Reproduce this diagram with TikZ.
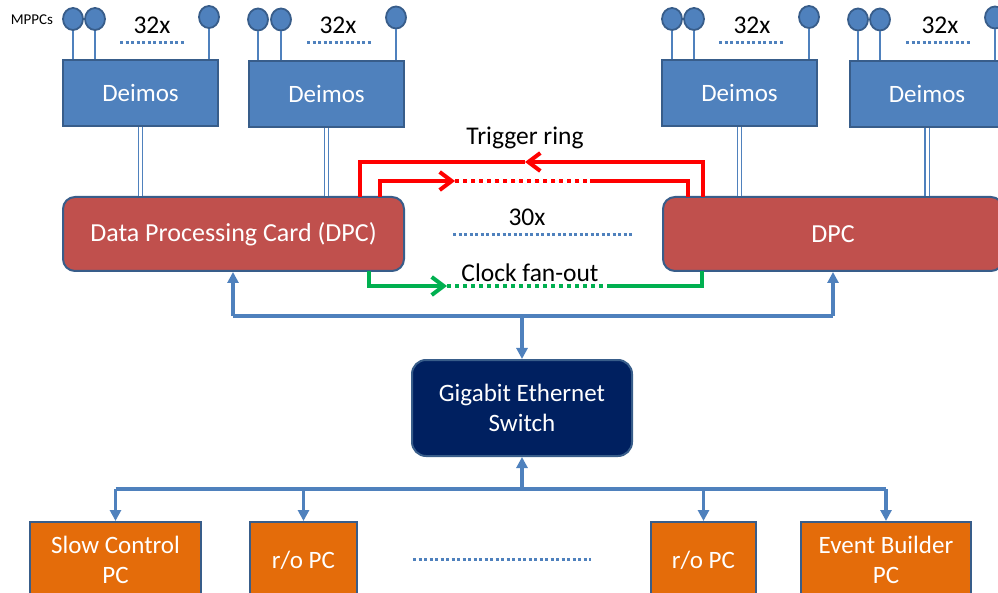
\documentclass[tikz,border=0pt]{standalone}
\usepackage{fontspec}
\setmainfont{Carlito}
\usetikzlibrary{arrows.meta,shapes.geometric}

\definecolor{deimosblue}{HTML}{4F81BD}
\definecolor{edge}{HTML}{385D8A}
\definecolor{dpcred}{HTML}{C0504D}
\definecolor{navy}{HTML}{002060}
\definecolor{pcorange}{HTML}{E46C0A}
\definecolor{ringred}{HTML}{FF0000}
\definecolor{clkgreen}{HTML}{00B050}

\begin{document}
\begin{tikzpicture}[x=1pt,y=-1pt,
  box/.style={draw=edge, line width=2pt, text=white, align=center,
    inner sep=0pt, font=\fontsize{25}{30}\selectfont},
  deimos/.style={box, fill=deimosblue, minimum width=155pt, minimum height=66pt},
  dpc/.style={box, fill=dpcred, rounded corners=12pt, minimum height=74pt},
  switchbox/.style={box, fill=navy, rounded corners=14pt,
    minimum width=220pt, minimum height=96pt},
  pcbox/.style={box, fill=pcorange, minimum height=76pt},
  mppc/.style={ellipse, draw=edge, line width=1.8pt, fill=deimosblue,
    minimum width=20pt, minimum height=22pt, inner sep=0pt},
  mwire/.style={draw=deimosblue, line width=1.4pt},
  link/.style={draw=deimosblue, line width=1.2pt, double=white, double distance=3pt},
  net/.style={draw=deimosblue, line width=3.2pt},
  netarrow/.style={net, -{Triangle[length=11pt,width=11pt]}},
  ring/.style={draw=ringred, line width=4pt},
  clk/.style={draw=clkgreen, line width=4pt},
  barb/.style={-{Straight Barb[length=12pt,width=18pt]}},
  dots/.style={line width=4pt, dash pattern=on 4pt off 4pt},
  bluedots/.style={draw=deimosblue, line width=3pt, dash pattern=on 3pt off 2.5pt},
  lbl/.style={inner sep=0pt, font=\fontsize{25.5}{30}\selectfont},
]
\useasboundingbox (0,0) rectangle (998,593);
\clip (0,0) rectangle (998,593);

% front-end boards
\node[deimos] (d1) at (140.5,93) {Deimos};
\node[deimos] (d2) at (326.5,94) {Deimos};
\node[deimos] (d3) at (739.5,93) {Deimos};
\node[deimos] (d4) at (927,94) {Deimos};

% sensors on each board
\node[inner sep=0pt, font=\fontsize{15}{17}\selectfont] (mlabel) at (32,20) {MPPCs};
\foreach \b/\xa/\xb/\xc/\ya/\yc in {d1/73/95/209/19/17, d2/258/281/396/19.5/17.5,
                                   d3/672/694/809/19/17, d4/858/880/995/19.5/17.5}{
  \node[mppc] (\b a) at (\xa,\ya) {};
  \node[mppc] (\b b) at (\xb,\ya) {};
  \node[mppc] (\b c) at (\xc,\yc) {};
  \foreach \s in {a,b,c}{
    \draw[mwire] (\b\s.south) -- (\b\s.south |- \b.north);
  }
}
\foreach \n/\x in {c1/152, c2/338, c3/752, c4/940}{
  \node[lbl] (\n) at (\x,25) {32x};
}
\draw[bluedots] (120,43) -- (185,43);
\draw[bluedots] (307,43) -- (372,43);
\draw[bluedots] (719,43) -- (784,43);
\draw[bluedots] (906,43) -- (971,43);

% data processing cards
\node[dpc, minimum width=341pt, font=\fontsize{26}{30}\selectfont] (dpcL) at (233.5,234)
  {\raisebox{-2pt}{Data Processing Card (DPC)}};
\node[dpc, minimum width=340pt, font=\fontsize{26}{30}\selectfont] (dpcR) at (833,234)
  {\raisebox{-1pt}{DPC}};

\draw[link] (d1.south) -- (d1.south |- dpcL.north);
\draw[link] (d2.south) -- (d2.south |- dpcL.north);
\draw[link] (d3.south) -- (d3.south |- dpcR.north);
\draw[link] (d4.south) -- (d4.south |- dpcR.north);

% trigger ring
\node[lbl] (trig) at (525,138) {Trigger ring};
\coordinate (ro1) at (703,197);
\coordinate (ro2) at (525,162);
\coordinate (ro3) at (360,197);
\draw[ring, barb] (ro1) |- (ro2);
\draw[ring] (ro2) -| (ro3);
\coordinate (ri1) at (380,197);
\coordinate (ri2) at (455,181);
\coordinate (ri3) at (590,181);
\coordinate (ri4) at (688,197);
\draw[ring, barb] (ri1) |- (ri2);
\draw[ring, dots] (ri2) -- (ri3);
\draw[ring] (ri3) -| (ri4);

% multiplicity of cards
\node[lbl] (n30) at (527,217) {30x};
\draw[bluedots] (453,235) -- (632,235);

% clock fan-out
\node[lbl] (clock) at (530,273) {Clock fan-out};
\coordinate (cl1) at (369,271);
\coordinate (cl2) at (447,286);
\coordinate (cl3) at (607,286);
\coordinate (cl4) at (702,271);
\draw[clk, barb] (cl1) |- (cl2);
\draw[clk, dots] (cl2) -- (cl3);
\draw[clk] (cl3) -| (cl4);

% network
\node[switchbox] (sw) at (522,408) {Gigabit Ethernet\\Switch};
\coordinate (busL) at (233,316);
\coordinate (busR) at (833,316);
\draw[net] (busL) -- (busR);
\draw[netarrow] (busL) -- (busL |- dpcL.south);
\draw[netarrow] (busR) -- (busR |- dpcR.south);
\draw[netarrow] (sw.north |- busL) -- (sw.north);

% computers
\node[pcbox, minimum width=171pt] (sc) at (115.5,560) {Slow Control\\PC};
\node[pcbox, minimum width=107pt] (rop1) at (303.5,560) {r/o PC};
\node[pcbox, minimum width=105pt] (rop2) at (703.5,560) {r/o PC};
\node[pcbox, minimum width=170pt] (eb) at (886,560) {Event Builder\\PC};
\draw[bluedots] (413,559) -- (591,559);

\coordinate (lbL) at (115.5,489);
\coordinate (lbR) at (886,489);
\draw[net] (lbL) -- (lbR);
\draw[netarrow] (sw.south |- lbL) -- (sw.south);
\draw[netarrow] (lbL) -- (sc.north);
\draw[netarrow] (rop1.north |- lbL) -- (rop1.north);
\draw[netarrow] (rop2.north |- lbL) -- (rop2.north);
\draw[netarrow] (lbR) -- (eb.north);
\end{tikzpicture}
\end{document}
